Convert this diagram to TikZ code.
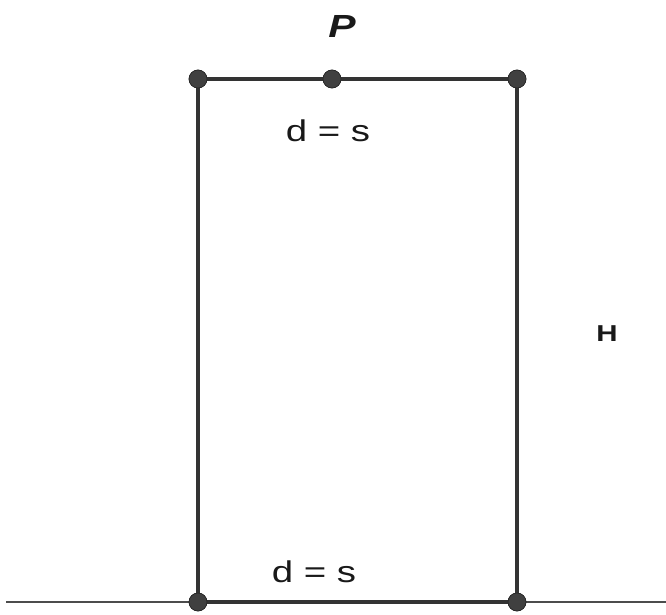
\documentclass[tikz,border=0pt]{standalone}
\usepackage{fontspec}
\setmainfont{Liberation Sans}
\newfontfamily\widesans[FakeStretch=1.28]{Liberation Sans}
\begin{document}
\begin{tikzpicture}[x=1pt,y=-1pt,
  frame/.style={draw=black!80,line width=3.2pt},
  ground/.style={draw=black!70,line width=1.2pt},
  joint/.style={circle,fill=black!75,draw=black!85,line width=0.6pt,inner sep=0pt,minimum size=18pt},
  lbl/.style={font=\widesans\fontsize{30}{34}\selectfont,text=black!90,anchor=base,inner sep=0pt}]
\useasboundingbox (0,0) rectangle (666,615);
\coordinate (gl) at (6,602);
\coordinate (gr) at (666,602);
\draw[ground] (gl) -- (gr);
\node[joint] (tl) at (198,79) {};
\node[joint] (tm) at (332,79) {};
\node[joint] (tr) at (517,79) {};
\node[joint] (bl) at (198,602) {};
\node[joint] (br) at (517,602) {};
\draw[frame] (tl.center) -- (tm.center) -- (tr.center) -- (br.center) -- (bl.center) -- cycle;
\foreach \n in {tl,tm,tr,bl,br} \node[joint] at (\n) {};
\node[lbl,font=\widesans\fontsize{32}{36}\selectfont\bfseries\itshape] (p) at (342,38) {P};
\node[lbl] (d1) at (328,142) {d = s};
\node[lbl] (d2) at (314,582) {d = s};
\node[lbl,font=\widesans\fontsize{23}{26}\selectfont\bfseries] (h) at (607,341) {H};
\end{tikzpicture}
\end{document}
